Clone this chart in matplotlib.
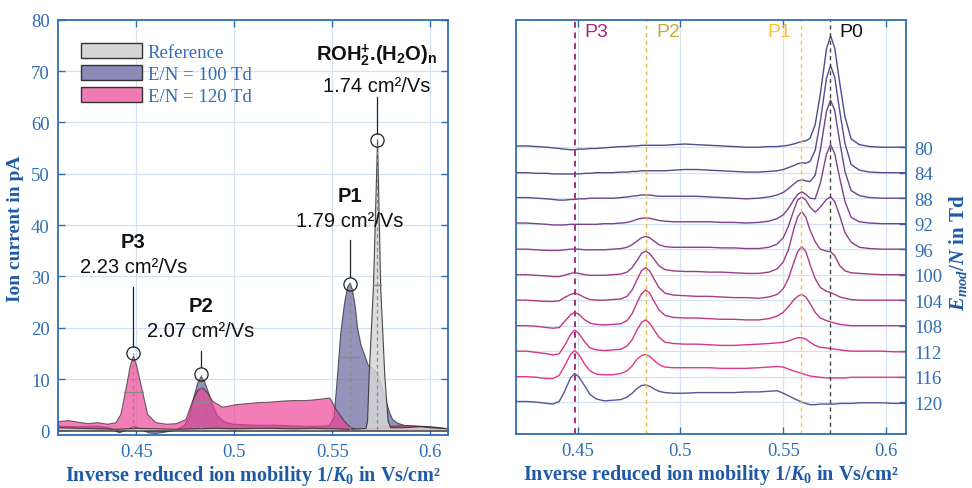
import numpy as np
import matplotlib
matplotlib.use('Agg')
import matplotlib.pyplot as plt
from matplotlib.patches import Patch
from matplotlib.font_manager import FontProperties

plt.rcParams['mathtext.fontset'] = 'custom'
plt.rcParams['mathtext.rm'] = 'Liberation Serif:bold'
plt.rcParams['mathtext.it'] = 'Liberation Serif:italic:bold'
plt.rcParams['mathtext.bf'] = 'Liberation Sans:bold'

# ---- left panel: spectra (x in Vs/cm2, y in pA) ----
ref_x = [0.410, 0.420, 0.430, 0.440, 0.450, 0.460, 0.470, 0.480, 0.490, 0.500, 0.510, 0.520,
         0.530, 0.540, 0.550, 0.558, 0.564, 0.5670, 0.5677, 0.5685, 0.5707, 0.5728, 0.5744,
         0.5765, 0.5782, 0.5795, 0.585, 0.590, 0.595, 0.600, 0.605, 0.609]
ref_y = [0.6, 0.5, 0.4, 0.3, 0.5, 0.4, 0.3, 0.4, 0.5, 0.4, 0.5, 0.5,
         0.4, 0.5, 0.4, 0.3, 0.4, 0.5, 1.9, 10.7, 28.0, 56.7, 28.0,
         10.7, 1.9, 0.6, 0.6, 0.7, 0.8, 0.6, 0.5, 0.4]

td100_x = [0.410, 0.420, 0.430, 0.436, 0.441, 0.4455, 0.4485, 0.452, 0.456, 0.460, 0.465, 0.470,
           0.474, 0.4765, 0.4792, 0.481, 0.4828, 0.4845, 0.4865, 0.4885, 0.491, 0.4945, 0.499,
           0.505, 0.512, 0.520, 0.528, 0.535, 0.542, 0.548, 0.5505, 0.552, 0.554, 0.556, 0.5575,
           0.5588, 0.560, 0.5615, 0.5626, 0.5645, 0.566, 0.568, 0.570, 0.572, 0.5735, 0.575,
           0.577, 0.579, 0.5805, 0.583, 0.587, 0.592, 0.598, 0.604, 0.609]
td100_y = [0.9, 0.8, 0.9, 0.6, -0.4, 0.3, 0.9, 0.3, -0.4, -0.5, -0.2, 0.2,
           1.0, 2.5, 6.8, 9.3, 10.6, 9.6, 7.5, 5.2, 3.0, 1.8, 1.3,
           1.2, 1.1, 1.1, 1.0, 0.9, 0.9, 1.0, 2.5, 9.0, 19.0, 25.0, 28.0,
           28.8, 27.5, 24.0, 20.0, 16.5, 15.0, 12.8, 12.2, 11.6, 10.6, 8.5,
           6.0, 3.5, 2.2, 1.5, 1.0, 0.9, 0.8, 0.6, 0.3]

td120_x = [0.410, 0.415, 0.420, 0.425, 0.430, 0.435, 0.4393, 0.4418, 0.4444, 0.4465, 0.4483,
           0.450, 0.4526, 0.4555, 0.4597, 0.465, 0.470, 0.475, 0.4784, 0.481, 0.4835, 0.486,
           0.4886, 0.4937, 0.5005, 0.506, 0.512, 0.518, 0.524, 0.530, 0.536, 0.542, 0.546,
           0.5485, 0.5516, 0.5558, 0.5592, 0.5625, 0.566, 0.570, 0.575, 0.580, 0.585, 0.590,
           0.595, 0.600, 0.605, 0.609]
td120_y = [1.8, 2.0, 1.7, 1.4, 1.6, 1.3, 1.6, 3.2, 8.1, 12.5, 14.6,
           12.5, 8.1, 3.2, 1.6, 1.3, 1.4, 2.2, 5.8, 7.9, 8.4, 7.4,
           5.8, 4.6, 5.1, 5.3, 5.5, 5.6, 5.8, 5.9, 5.9, 6.1, 6.3,
           6.4, 4.2, 1.9, 0.6, 0.3, 0.2, 0.4, 0.7, 0.9, 1.0, 1.0,
           0.9, 0.8, 0.6, 0.4]

peak_x = [0.4485, 0.4828, 0.5588, 0.5728]
peak_y = [15.0, 11.0, 28.5, 56.5]
half_lo = [0.4435, 0.4792, 0.5540, 0.5707]
half_hi = [0.4532, 0.4877, 0.5634, 0.5750]
peak_names = ['P3', 'P2', 'P1',
              r'ROH$_{\mathbf{2}}^{\mathbf{+}}$.(H$_{\mathbf{2}}$O)$_{\mathbf{n}}$']
peak_k0 = ['2.23', '2.07', '1.79', '1.74']

# ---- right panel: spectra offset by E_mod/N ----
en_values = [80, 84, 88, 92, 96, 100, 104, 108, 112, 116, 120]
xr = [0.420, 0.425, 0.430, 0.435, 0.438, 0.441, 0.4435, 0.4465, 0.4485, 0.4505, 0.4535, 0.456,
      0.459, 0.463, 0.467, 0.471, 0.474, 0.4765, 0.479, 0.481, 0.483, 0.485, 0.487, 0.4895,
      0.4925, 0.4965, 0.502, 0.508, 0.514, 0.520, 0.526, 0.532, 0.538, 0.543, 0.547, 0.550,
      0.5525, 0.555, 0.557, 0.559, 0.561, 0.563, 0.5655, 0.568, 0.571, 0.573, 0.575, 0.5775,
      0.580, 0.583, 0.587, 0.592, 0.598, 0.604, 0.610]
sig80 = [0.2, 0.2, 0.1, 0.0, -0.1, -0.2, -0.3, -0.4, -0.4, -0.3, -0.3, -0.2, -0.2, -0.1, 0.0,
         0.1, 0.1, 0.2, 0.2, 0.3, 0.3, 0.3, 0.3, 0.3, 0.3, 0.4, 0.5, 0.4, 0.3, 0.2, 0.1, 0.0,
         0.0, 0.1, 0.1, 0.2, 0.3, 0.5, 0.7, 0.9, 1.0, 1.4, 3.5, 8.3, 15.4, 17.5, 15.6, 10.0,
         4.8, 1.3, 0.4, 0.1, 0.0, 0.0, 0.0]
sig84 = [0.0, 0.0, -0.1, -0.1, -0.2, -0.2, -0.2, -0.2, -0.2, -0.2, -0.1, -0.1, 0.0, 0.0, 0.0,
         0.1, 0.1, 0.2, 0.2, 0.3, 0.3, 0.3, 0.3, 0.3, 0.3, 0.4, 0.5, 0.5, 0.4, 0.3, 0.2, 0.1,
         0.1, 0.2, 0.3, 0.5, 0.8, 1.1, 1.4, 1.55, 1.5, 1.75, 3.5, 8.0, 14.8, 16.8, 15.0, 9.6,
         4.6, 1.3, 0.4, 0.1, 0.0, 0.0, 0.0]
sig88 = [0.1, 0.1, 0.0, -0.1, -0.2, -0.3, -0.3, -0.2, -0.2, -0.1, -0.1, 0.0, 0.0, 0.0, 0.0,
         0.1, 0.2, 0.3, 0.4, 0.5, 0.5, 0.5, 0.4, 0.3, 0.3, 0.3, 0.3, 0.3, 0.2, 0.1, 0.0, -0.1,
         0.0, 0.2, 0.5, 0.9, 1.5, 2.2, 2.7, 2.9, 2.7, 2.6, 3.6, 7.5, 13.6, 15.4, 13.8, 8.8,
         4.2, 1.2, 0.4, 0.1, 0.0, 0.0, 0.0]
sig92 = [0.1, 0.1, 0.0, -0.1, -0.2, -0.2, -0.2, -0.1, -0.1, -0.1, -0.1, -0.1, -0.1, 0.0, 0.0,
         0.1, 0.2, 0.4, 0.7, 0.85, 0.9, 0.85, 0.7, 0.5, 0.4, 0.3, 0.3, 0.3, 0.3, 0.2, 0.2, 0.1,
         0.2, 0.4, 0.8, 1.4, 2.4, 3.7, 4.6, 5.0, 4.6, 4.0, 3.9, 6.3, 10.9, 12.4, 11.0, 7.1,
         3.5, 1.0, 0.3, 0.1, 0.0, 0.0, 0.0]
sig96 = [0.0, 0.0, -0.1, -0.2, -0.2, -0.2, -0.1, 0.0, 0.0, 0.0, -0.1, -0.1, -0.1, -0.1, 0.0,
         0.1, 0.3, 0.7, 1.3, 1.8, 2.0, 1.8, 1.3, 0.7, 0.4, 0.3, 0.3, 0.3, 0.3, 0.2, 0.2, 0.1,
         0.1, 0.3, 0.8, 1.8, 3.6, 6.0, 7.7, 8.2, 7.7, 6.6, 5.8, 6.6, 7.8, 8.2, 7.5, 5.2,
         2.6, 1.1, 0.3, 0.1, 0.0, 0.0, 0.0]
sig100 = [0.0, 0.0, -0.1, -0.2, -0.3, -0.3, -0.1, 0.2, 0.3, 0.2, 0.0, -0.1, -0.1, -0.1, 0.0,
          0.1, 0.4, 1.1, 2.3, 3.3, 3.7, 3.3, 2.5, 1.4, 0.8, 0.6, 0.5, 0.5, 0.4, 0.4, 0.3, 0.2,
          0.2, 0.4, 0.9, 2.0, 3.9, 7.0, 9.1, 9.9, 9.0, 7.0, 5.2, 4.0, 3.7, 3.6, 3.0, 1.4,
          0.6, 0.3, 0.2, 0.1, 0.0, 0.0, 0.0]
sig104 = [0.0, 0.0, -0.1, -0.2, -0.2, -0.1, 0.4, 0.9, 1.1, 0.9, 0.4, 0.1, 0.0, 0.0, 0.1,
          0.2, 0.6, 1.6, 3.3, 4.6, 5.1, 4.6, 3.4, 2.0, 1.1, 0.8, 0.7, 0.6, 0.6, 0.5, 0.4, 0.4,
          0.3, 0.5, 0.9, 1.8, 3.4, 5.8, 7.6, 8.4, 7.6, 5.6, 3.4, 2.0, 1.4, 1.2, 0.9, 0.5,
          0.3, 0.1, 0.0, 0.0, 0.0, 0.0, 0.0]
sig108 = [0.0, 0.0, -0.1, -0.3, -0.4, -0.3, 0.6, 1.7, 2.1, 1.8, 0.9, 0.4, 0.2, 0.1, 0.2,
          0.3, 0.8, 1.9, 3.7, 5.0, 5.6, 5.1, 3.9, 2.5, 1.6, 1.3, 1.2, 1.2, 1.1, 1.0, 1.0, 0.9,
          0.9, 1.1, 1.5, 2.1, 3.0, 4.0, 4.6, 4.9, 4.5, 3.5, 2.1, 1.2, 0.8, 0.6, 0.4, 0.2,
          0.1, 0.0, 0.0, 0.0, 0.0, 0.0, 0.0]
sig112 = [0.0, 0.0, -0.2, -0.4, -0.6, -0.4, 0.8, 2.6, 3.3, 2.8, 1.4, 0.5, 0.2, 0.1, 0.2,
          0.3, 0.8, 1.8, 3.4, 4.5, 4.9, 4.4, 3.4, 2.2, 1.4, 1.2, 1.1, 1.1, 1.0, 0.9, 0.9, 1.0,
          1.1, 1.2, 1.3, 1.4, 1.6, 1.9, 2.1, 2.1, 1.9, 1.4, 0.9, 0.6, 0.5, 0.4, 0.3, 0.2,
          0.1, 0.0, 0.0, 0.0, 0.0, -0.1, -0.1]
sig116 = [0.0, 0.0, -0.1, -0.3, -0.3, 0.2, 1.6, 3.5, 4.1, 3.5, 1.9, 0.9, 0.4, 0.3, 0.3,
          0.5, 0.9, 1.7, 2.8, 3.3, 3.5, 3.2, 2.6, 1.9, 1.5, 1.4, 1.4, 1.4, 1.4, 1.3, 1.3, 1.3,
          1.4, 1.5, 1.6, 1.5, 1.2, 0.9, 0.7, 0.5, 0.3, 0.1, 0.0, -0.1, -0.2, -0.2, -0.2, -0.2,
          -0.2, -0.1, -0.1, -0.1, -0.1, -0.1, -0.1]
sig120 = [0.1, 0.1, 0.0, -0.2, -0.3, 0.1, 1.6, 3.8, 4.5, 4.0, 2.5, 1.2, 0.5, 0.2, 0.3,
          0.4, 0.8, 1.4, 2.2, 2.6, 2.7, 2.5, 2.1, 1.7, 1.5, 1.4, 1.4, 1.5, 1.5, 1.5, 1.5, 1.6,
          1.6, 1.7, 1.8, 1.4, 1.0, 0.6, 0.3, 0.0, -0.2, -0.4, -0.4, -0.3, -0.3, -0.3, -0.3, -0.2,
          -0.2, -0.2, -0.1, -0.1, -0.1, -0.2, -0.2]
signals = [sig80, sig84, sig88, sig92, sig96, sig100, sig104, sig108, sig112, sig116, sig120]
trace_colors = ['#4b4d8e', '#584a8e', '#67468d', '#78428c', '#89408b', '#9b3d89',
                '#ad3a88', '#c03787', '#d43587', '#e53689', '#55559a']

marker_x = [0.4485, 0.4833, 0.5587, 0.5728]
marker_names = ['P3', 'P2', 'P1', 'P0']
marker_colors = ['#a3287a', '#c9a93a', '#ffc12a', '#111111']
line_colors = ['#a3307a', '#e2b84e', '#ffc444', '#444444']

blue = '#2f6db5'
dark_blue = '#1f5aa6'
grid_col = '#d5e3f1'
sans = 'Liberation Sans'
serif = 'Liberation Serif'


def style_axes(ax):
    for s in ax.spines.values():
        s.set_color(blue)
        s.set_linewidth(1.3)
    ax.tick_params(direction='in', colors=blue, labelcolor=blue, length=5, width=1.0,
                   labelsize=13.5, pad=6)
    for lab in ax.get_xticklabels() + ax.get_yticklabels():
        lab.set_fontfamily(serif)
    ax.grid(True, color=grid_col, lw=0.9)
    ax.set_axisbelow(True)


fig = plt.figure(figsize=(9.72, 4.89), dpi=100)
ax1 = fig.add_axes([0.0597, 0.1084, 0.4012, 0.8493])
ax2 = fig.add_axes([0.5309, 0.1104, 0.4012, 0.8472])

# left panel
edge = '#2a2a2a'
ax1.fill_between(td100_x, td100_y, 0, facecolor='#6a6aa2', alpha=0.72, edgecolor=edge, lw=0.8)
ax1.fill_between(td120_x, td120_y, 0, facecolor='#ee3f94', alpha=0.68, edgecolor=edge, lw=0.8)
ax1.fill_between(ref_x, ref_y, 0, facecolor='#d6d6d6', alpha=0.85, edgecolor=edge, lw=0.8)

for i in range(4):
    ax1.plot([peak_x[i], peak_x[i]], [0, peak_y[i]], color='#8a8a8a', ls=(0, (3, 2.5)), lw=0.9)
    ax1.plot([half_lo[i], half_hi[i]], [peak_y[i] / 2, peak_y[i] / 2], color='#8a8a8a', lw=1.0)
ax1.plot(peak_x, peak_y, 'o', ms=9.5, mfc='none', mec='#222222', mew=0.9)

stem_top = [28.0, 15.5, 37.0, 65.0]
name_y = [36.8, 24.3, 45.7, 73.3]
k0_y = [32.0, 19.4, 40.8, 67.2]
for i in range(4):
    ax1.plot([peak_x[i], peak_x[i]], [peak_y[i] + 1.3, stem_top[i]], color='#222222', lw=0.9)
    ax1.text(peak_x[i], name_y[i], peak_names[i], ha='center', va='center',
             fontfamily=sans, fontweight='bold', fontsize=14.5, color='#111111')
    ax1.text(peak_x[i], k0_y[i], peak_k0[i] + ' cm²/Vs', ha='center', va='center',
             fontfamily=sans, fontsize=14.5, color='#111111')

ax1.set_xlim(0.41, 0.609)
ax1.set_ylim(-0.9, 80)
ax1.set_xticks([0.45, 0.5, 0.55, 0.6])
ax1.set_xticklabels(['0.45', '0.5', '0.55', '0.6'])
ax1.set_yticks(np.arange(0, 81, 10))
ax1.tick_params(top=True, right=True)
style_axes(ax1)
ax1.set_xlabel('Inverse reduced ion mobility 1/$K_0$ in Vs/cm²', fontfamily=serif,
               fontweight='bold', fontsize=14.5, color=dark_blue, labelpad=2)
ax1.set_ylabel('Ion current in pA', fontfamily=serif, fontweight='bold', fontsize=14,
               color=dark_blue, labelpad=5)

handles = [Patch(facecolor='#d6d6d6', edgecolor='#333333', lw=1.0),
           Patch(facecolor='#8a8ab8', edgecolor='#333333', lw=1.0),
           Patch(facecolor='#f07ab4', edgecolor='#333333', lw=1.0)]
leg = ax1.legend(handles, ['Reference', 'E/N = 100 Td', 'E/N = 120 Td'], loc='upper left',
                 bbox_to_anchor=(0.059, 0.943), frameon=False, borderpad=0, borderaxespad=0,
                 handlelength=3.25, handleheight=0.85, labelspacing=0.2, handletextpad=0.3,
                 prop=FontProperties(family=serif, size=13.5))
for t in leg.get_texts():
    t.set_color(blue)

# right panel
for i, en in enumerate(en_values):
    ax2.plot(xr, en - np.array(signals[i]), color=trace_colors[i], lw=1.0)

for i in range(4):
    lw = 1.4 if i == 0 else 1.0
    ax2.axvline(marker_x[i], color=line_colors[i], ls=(0, (3, 2.5)), lw=lw)
    if marker_names[i] == 'P1':
        off, ha = -7, 'right'
    else:
        off, ha = 7, 'left'
    ax2.annotate(marker_names[i], (marker_x[i], 61.9), xytext=(off, 0),
                 textcoords='offset points', ha=ha, va='center', fontfamily=sans,
                 fontsize=14, color=marker_colors[i])

ax2.set_xlim(0.42, 0.6097)
ax2.set_ylim(125, 60)
ax2.set_xticks([0.45, 0.5, 0.55, 0.6])
ax2.set_xticklabels(['0.45', '0.5', '0.55', '0.6'])
ax2.set_yticks(en_values)
ax2.yaxis.tick_right()
ax2.tick_params(top=True, right=True, left=False)
style_axes(ax2)
ax2.yaxis.set_label_position('right')
ax2.set_xlabel('Inverse reduced ion mobility 1/$K_0$ in Vs/cm²', fontfamily=serif,
               fontweight='bold', fontsize=14.5, color=dark_blue, labelpad=2)
ax2.set_ylabel('$E_{mod}/N$ in Td', fontfamily=serif, fontweight='bold', fontsize=15,
               color=dark_blue)
ax2.yaxis.set_label_coords(1.105, 0.44)

fig.savefig('out.png', dpi=100, facecolor='white')
